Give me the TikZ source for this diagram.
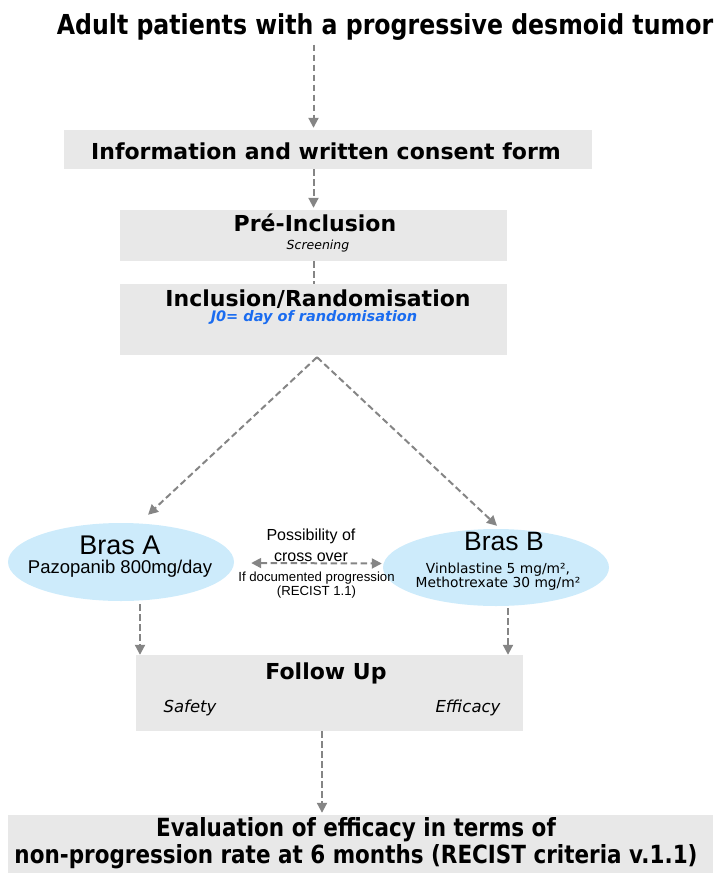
\documentclass[tikz,border=0pt]{standalone}
\usepackage{fontspec}
\setmainfont{DejaVu Sans}
\newfontfamily\arial{Liberation Sans}
\newfontfamily\tahoma[FakeStretch=0.86]{DejaVu Sans}
\usetikzlibrary{arrows.meta,shapes.geometric}
\definecolor{boxgray}{HTML}{E8E8E8}
\definecolor{brasblue}{HTML}{CDEBFB}
\definecolor{arrowgray}{HTML}{858585}
\definecolor{jzero}{HTML}{1A6CF0}

\begin{document}
\begin{tikzpicture}[x=1pt,y=-1pt]
  \tikzstyle{box} = [rectangle,fill=boxgray,draw=none,inner sep=0pt];
  \tikzstyle{bras} = [ellipse,fill=brasblue,draw=none,inner sep=0pt,minimum width=226pt];
  \tikzstyle{flow} = [draw=arrowgray,line width=2pt,dash pattern=on 6.5pt off 3.5pt,-{Triangle[width=10pt,length=10pt]}];
  \tikzstyle{head} = [inner sep=0pt,font=\bfseries\fontsize{22}{26}\selectfont];
  \useasboundingbox (0,0) rectangle (713,873);
  \node[inner sep=0pt,font=\tahoma\bfseries\fontsize{27.5}{32}\selectfont] (patients) at (385,27) {Adult patients with a progressive desmoid tumor};
  % boxes
  \node[box,minimum width=528pt,minimum height=39pt] (info) at (328,149.5) {};
  \node[box,minimum width=387pt,minimum height=51pt] (pre) at (313.5,235.5) {};
  \node[box,minimum width=387pt,minimum height=71pt] (incl) at (313.5,319.5) {};
  \node[box,minimum width=387pt,minimum height=76pt] (follow) at (329.5,693) {};
  \node[box,minimum width=705pt,minimum height=58pt] (eval) at (360.5,844) {};
  \node[bras,minimum height=78pt] (brasA) at (121,562) {};
  \node[bras,minimum height=77pt] (brasB) at (496,567.5) {};
  % texts
  \node[head] (infotxt) at (326,151) {Information and written consent form};
  \node[head] (pretxt) at (315,223) {Pré-Inclusion};
  \node[inner sep=0pt,font=\itshape\fontsize{12.5}{14}\selectfont] (screen) at (318,246) {Screening};
  \node[head] (incltxt) at (318,299) {Inclusion/Randomisation};
  \node[inner sep=0pt,text=jzero,font=\bfseries\itshape\fontsize{14.5}{16}\selectfont] (jzero) at (314,318) {J0= day of randomisation};
  \node[inner sep=0pt,font=\arial\fontsize{27}{30}\selectfont] (brasAtxt) at (120,545) {Bras A};
  \node[inner sep=0pt,font=\arial\fontsize{18.5}{20}\selectfont] (pazo) at (120,569) {Pazopanib 800mg/day};
  \node[inner sep=0pt,font=\arial\fontsize{26.5}{30}\selectfont] (brasBtxt) at (504,542) {Bras B};
  \node[inner sep=0pt,align=center,font=\fontsize{13.8}{14}\selectfont] (vinbla) at (498,577) {Vinblastine 5 mg/m²,\\Methotrexate 30 mg/m²};
  \node[inner sep=0pt,align=center,font=\arial\fontsize{16}{21}\selectfont] (possib) at (311,545) {Possibility of\\cross over};
  \node[inner sep=0pt,align=center,font=\arial\fontsize{13.2}{10}\selectfont] (ifdoc) at (316.5,585) {If documented progression\\(RECIST 1.1)};
  \node[head] (followtxt) at (326,673) {Follow Up};
  \node[inner sep=0pt,font=\itshape\fontsize{16.5}{18}\selectfont] (safety) at (190,708) {Safety};
  \node[inner sep=0pt,font=\itshape\fontsize{16.5}{18}\selectfont] (efficacy) at (468,708) {Efficacy};
  \node[inner sep=0pt,align=center,font=\tahoma\bfseries\fontsize{25}{27}\selectfont] (evaltxt) at (356,843) {Evaluation of efficacy in terms of\\non-progression rate at 6 months (RECIST criteria v.1.1)};
  % connectors
  \coordinate (crossL) at ([xshift=17pt,yshift=-1pt]brasA.east);
  \coordinate (crossR) at ([xshift=-1pt,yshift=4pt]brasB.west);
  \draw[flow,shorten >=2pt] ([yshift=-4pt]pre.north |- patients.south) -- (pre.north |- info.north);
  \draw[flow,shorten >=2pt] (pre.north |- info.south) -- (pre.north);
  \draw[flow,-] (pre.south) -- (incl.north);
  \draw[flow] ([xshift=3.5pt,yshift=-2pt]incl.south) -- ([xshift=27pt,yshift=8pt]brasA.north);
  \draw[flow] ([xshift=3.5pt,yshift=-2pt]incl.south) -- ([xshift=1pt,yshift=3pt]brasB.north);
  \draw[flow,{Triangle[width=10pt,length=10pt]}-{Triangle[width=10pt,length=10pt]}] (crossL) -- (crossR);
  \draw[flow] ([xshift=19pt,yshift=-3pt]brasA.south) -- ([xshift=19pt]brasA.south |- follow.north);
  \draw[flow] ([xshift=12pt,yshift=-2pt]brasB.south) -- ([xshift=12pt]brasB.south |- follow.north);
  \draw[flow,shorten >=2pt] ([xshift=-7.5pt]follow.south) -- ([xshift=-7.5pt]follow.south |- eval.north);
\end{tikzpicture}
\end{document}
